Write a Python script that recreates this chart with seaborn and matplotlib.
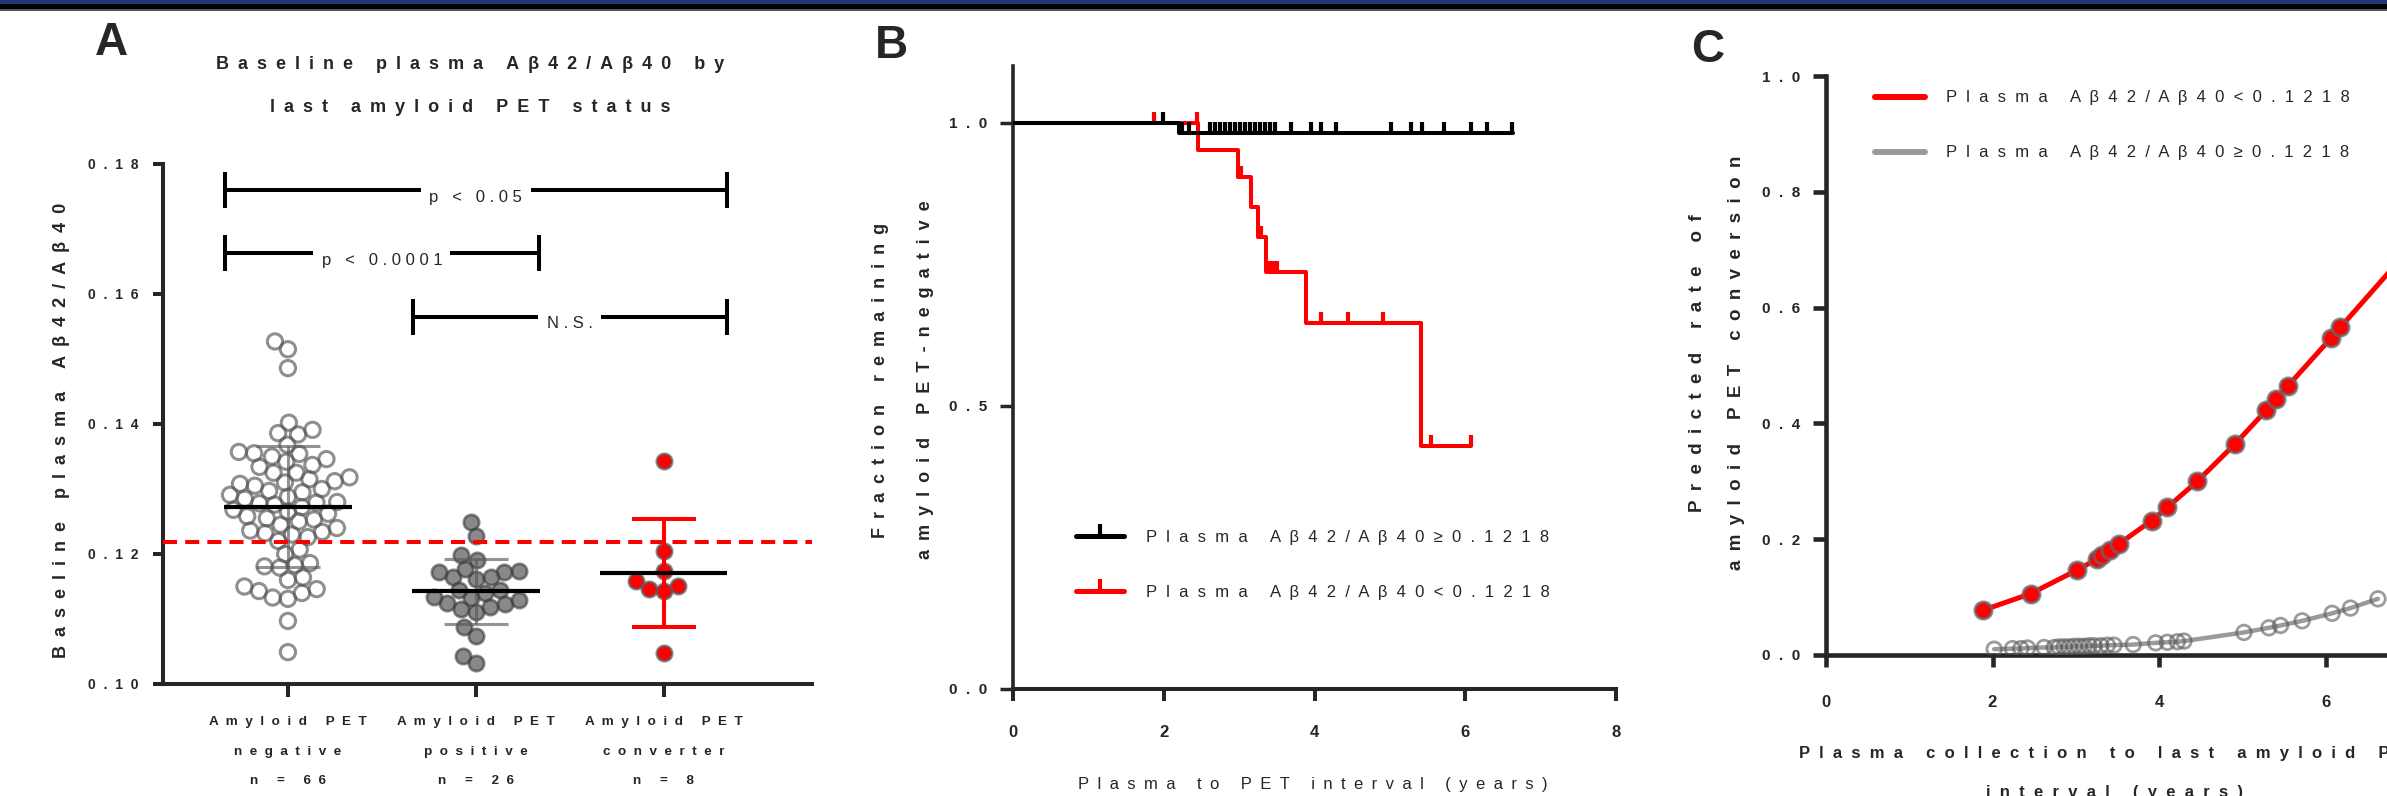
import numpy as np
import pandas as pd
import matplotlib.pyplot as plt
import seaborn as sns
from matplotlib.lines import Line2D
from matplotlib.patches import Rectangle

sns.set_style("ticks")
plt.rcParams['font.family'] = ['Liberation Sans', 'DejaVu Sans']

# ---- Panel A: baseline plasma ratio by last amyloid PET status
group_keys = ["negative", "positive", "converter"]
neg_ratio = [0.1527, 0.1515, 0.1486,
             0.1402, 0.1391, 0.1386, 0.1384, 0.1368, 0.1357, 0.1355, 0.1354, 0.1350,
             0.1346, 0.1342, 0.1337, 0.1334, 0.1325, 0.1325, 0.1318, 0.1315, 0.1312,
             0.1310, 0.1308, 0.1305,
             0.1300, 0.1297, 0.1295, 0.1291, 0.1288, 0.1285, 0.1280, 0.1279, 0.1278,
             0.1276, 0.1272, 0.1268, 0.1265, 0.1262, 0.1258, 0.1255, 0.1253, 0.1250,
             0.1245, 0.1240, 0.1236, 0.1234, 0.1232, 0.1230, 0.1226, 0.1220,
             0.1207, 0.1200, 0.1186, 0.1183, 0.1181, 0.1179, 0.1164, 0.1160, 0.1150,
             0.1146, 0.1143, 0.1140, 0.1133, 0.1131, 0.1097, 0.1049]
pos_ratio = [0.1249, 0.1228, 0.1191, 0.1198,
             0.1174, 0.1173, 0.1164, 0.1161, 0.1164, 0.1173, 0.1177,
             0.1144, 0.1145,
             0.1140, 0.1132, 0.1123, 0.1116, 0.1111, 0.1119, 0.1124, 0.1129, 0.1134,
             0.1087, 0.1074, 0.1043, 0.1032]
conv_ratio = [0.1343, 0.1205, 0.1174, 0.1158, 0.1151, 0.1146, 0.1143, 0.1047]
threshold = 0.1218
brackets = [(0, 2, 0.1760, "p < 0.05"), (0, 1, 0.1663, "p < 0.0001"), (1, 2, 0.1565, "N.S.")]

# ---- Panel B: Kaplan-Meier, remaining amyloid PET negative
km_black_t = [0.0, 2.20, 6.63]
km_black_s = [1.0, 0.982, 0.982]
km_black_cens = [1.99, 2.24, 2.34, 2.61, 2.68, 2.74, 2.81, 2.88, 2.94, 3.01, 3.08, 3.14,
                 3.21, 3.28, 3.34, 3.41, 3.48, 3.69, 3.95, 4.08, 4.28, 5.01, 5.28, 5.43,
                 5.72, 6.08, 6.29, 6.62]
km_red_t = [0.0, 2.45, 2.98, 3.16, 3.25, 3.35, 3.89, 5.41, 6.08]
km_red_s = [1.0, 0.953, 0.904, 0.852, 0.799, 0.737, 0.647, 0.430, 0.430]
km_red_cens = [1.87, 2.44, 3.02, 3.29, 3.40, 3.45, 3.50, 4.09, 4.45, 4.91, 5.54, 6.08]

# ---- Panel C: predicted rate of amyloid PET conversion
pred_red_t = [1.88, 2.46, 3.02, 3.26, 3.32, 3.41, 3.52, 3.91, 4.10, 4.46, 4.91, 5.29,
              5.41, 5.55, 6.07, 6.18, 7.00]
pred_red_p = [0.077, 0.106, 0.147, 0.166, 0.172, 0.181, 0.192, 0.232, 0.255, 0.300, 0.364,
              0.423, 0.443, 0.465, 0.548, 0.566, 0.700]
pred_gray_t = [2.02, 2.24, 2.34, 2.42, 2.62, 2.74, 2.80, 2.86, 2.92, 2.98, 3.04, 3.10,
               3.16, 3.22, 3.30, 3.38, 3.46, 3.69, 3.96, 4.10, 4.22, 4.30, 5.02, 5.32,
               5.46, 5.72, 6.08, 6.30, 6.63]
pred_gray_p = [0.010, 0.011, 0.011, 0.012, 0.013, 0.013, 0.014, 0.014, 0.014, 0.015, 0.015,
               0.015, 0.016, 0.016, 0.016, 0.017, 0.017, 0.018, 0.021, 0.022, 0.023, 0.024,
               0.039, 0.047, 0.051, 0.059, 0.072, 0.081, 0.097]

label_hi = "Plasma A\u03b242/A\u03b240\u22650.1218"
label_lo = "Plasma A\u03b242/A\u03b240<0.1218"

EN = "\u2002"   # en space, for the wide letter spacing of the original export


def sp(text, sep="  "):
    return sep.join(text)


W, H = 2387, 796
fig = plt.figure(figsize=(W / 100, H / 100), dpi=100)


def fx(x):
    return x / W


def fy(y):
    return 1 - y / H


# header band
fig.add_artist(Rectangle((0, fy(4.5)), 1, 4.5 / H, transform=fig.transFigure, fc="#1f3875", ec="none"))
fig.add_artist(Rectangle((0, fy(9.3)), 1, 4.8 / H, transform=fig.transFigure, fc="black", ec="none"))
fig.add_artist(Rectangle((0, fy(10.7)), 1, 1.4 / H, transform=fig.transFigure, fc="#555555", ec="none"))

axA = fig.add_axes([fx(163), fy(684), (812 - 163) / W, (684 - 164) / H])
axB = fig.add_axes([fx(1013), fy(689), (1616 - 1013) / W, 1.1 * 566 / H])
axC = fig.add_axes([fx(1826), fy(655), 666 / W, 579 / H])

# ---------------- A ----------------
df = pd.DataFrame({
    "group": ["negative"] * len(neg_ratio) + ["positive"] * len(pos_ratio) + ["converter"] * len(conv_ratio),
    "ratio": neg_ratio + pos_ratio + conv_ratio,
})
styles = {
    "negative": dict(fc="none", ec=(0.33, 0.33, 0.33, 0.65), lw=2.2),
    "positive": dict(fc=(0.38, 0.38, 0.38, 0.75), ec=(0.22, 0.22, 0.22, 0.6), lw=2.0),
    "converter": dict(fc="#ff0000", ec=(0.35, 0.35, 0.35, 0.7), lw=2.0),
}
swarms = []
for g in group_keys:
    n0 = len(axA.collections)
    sns.swarmplot(data=df[df.group == g], x="group", y="ratio", order=group_keys,
                  size=8.3, ax=axA, zorder=2)
    for pts in axA.collections[n0:]:
        pts.set_facecolor(styles[g]["fc"])
        pts.set_edgecolor(styles[g]["ec"])
        pts.set_linewidth(styles[g]["lw"])
        swarms.append(pts)

sd_colors = [(0.35, 0.35, 0.35, 0.65), (0.35, 0.35, 0.35, 0.65), "#ff0000"]
for i, vals in enumerate([neg_ratio, pos_ratio, conv_ratio]):
    m, s = np.mean(vals), np.std(vals, ddof=1)
    lw = 2.9 if i == 2 else 2.2
    axA.errorbar(i, m, yerr=s, color=sd_colors[i], capsize=23, capthick=lw, elinewidth=lw, zorder=3)
    axA.hlines(m, i - 0.34, i + 0.34, color="black", lw=3, zorder=4)

axA.axhline(threshold, color="#ff0000", lw=2.9, ls=(0, (3.5, 2)), zorder=5)

cap_h, ext = 0.0028, 0.335
for a, b, yb, lab in brackets:
    x0, x1 = a - ext, b + ext
    axA.plot([x0, x0, np.nan, x0, x1, np.nan, x1, x1],
             [yb - cap_h, yb + cap_h, np.nan, yb, yb, np.nan, yb - cap_h, yb + cap_h],
             color="black", lw=2.9, clip_on=False, solid_capstyle="butt")
    axA.text((x0 + x1) / 2, yb - 0.0011, sp(lab, " "), ha="center", va="center", fontsize=12,
             bbox=dict(fc="white", ec="none", pad=6), zorder=6)

axA.set_xlim(-0.665, 2.79)
axA.set_ylim(0.10, 0.18)
yt = [0.10, 0.12, 0.14, 0.16, 0.18]
axA.set_yticks(yt, [sp(f"{v:.2f}") for v in yt], fontsize=10, fontweight="bold")
cat_labels = [sp("Amyloid PET") + "\n" + sp(k) + "\n" + sp(f"n = {len(v)}")
              for k, v in zip(group_keys, [neg_ratio, pos_ratio, conv_ratio])]
axA.set_xticks(range(3), cat_labels, fontsize=9.7, fontweight="bold", linespacing=2.9)
axA.set_xlabel("")
axA.set_ylabel("")
axA.tick_params(axis="y", length=7.2, width=2.9, pad=10.8)
axA.tick_params(axis="x", length=9.4, width=2.9, pad=14)

# ---------------- B ----------------
sns.lineplot(x=km_red_t, y=km_red_s, drawstyle="steps-post", color="#ff0000", lw=2.9,
             estimator=None, sort=False, ax=axB, zorder=2)
sns.lineplot(x=km_black_t, y=km_black_s, drawstyle="steps-post", color="black", lw=2.9,
             estimator=None, sort=False, ax=axB, zorder=3)


def level_at(ts, ss, c):
    return ss[np.searchsorted(ts, c, side="right") - 1]


axB.plot(km_red_cens, [level_at(km_red_t, km_red_s, c) for c in km_red_cens], ls="none",
         marker=2, ms=8, mew=3, color="#ff0000", zorder=2)
axB.plot(km_black_cens, [level_at(km_black_t, km_black_s, c) for c in km_black_cens], ls="none",
         marker=2, ms=8, mew=3, color="black", zorder=3)

axB.set_xlim(0, 8)
axB.set_ylim(0, 1.1)
axB.set_yticks([0, 0.5, 1.0], [sp(f"{v:.1f}") for v in [0, 0.5, 1.0]], fontsize=11, fontweight="bold")
axB.set_xticks([0, 2, 4, 6, 8], ["0", "2", "4", "6", "8"], fontsize=12, fontweight="bold")
axB.set_xlabel("")
axB.set_ylabel("")
axB.tick_params(axis="y", length=9.4, width=2.5, pad=9.4)
axB.tick_params(axis="x", length=8.6, width=2.9, pad=17)
hB = [Line2D([0], [0], color="black", lw=3.6, marker=2, ms=9, mew=3, solid_capstyle="round"),
      Line2D([0], [0], color="#ff0000", lw=3.6, marker=2, ms=9, mew=3, solid_capstyle="round")]
axB.legend(hB, [sp(label_hi), sp(label_lo)], loc="upper left", bbox_to_anchor=(0.104, 0.255),
           frameon=False, fontsize=12, handlelength=2.9, handletextpad=1.3, labelspacing=2.4,
           borderpad=0, borderaxespad=0)

# ---------------- C ----------------
sns.lineplot(x=pred_gray_t, y=pred_gray_p, color="#9a9a9a", lw=3.2, estimator=None, sort=False,
             ax=axC, zorder=2)
n0 = len(axC.collections)
sns.scatterplot(x=pred_gray_t, y=pred_gray_p, s=110, ax=axC, zorder=3)
for pts in axC.collections[n0:]:
    pts.set_facecolor("none")
    pts.set_edgecolor((0.35, 0.35, 0.35, 0.6))
    pts.set_linewidth(2.0)
sns.lineplot(x=pred_red_t, y=pred_red_p, color="#ff0000", lw=3.6, estimator=None, sort=False,
             ax=axC, zorder=4)
n0 = len(axC.collections)
sns.scatterplot(x=pred_red_t, y=pred_red_p, s=150, ax=axC, zorder=5)
for pts in axC.collections[n0:]:
    pts.set_facecolor("#ff0000")
    pts.set_edgecolor((0.4, 0.4, 0.4, 0.75))
    pts.set_linewidth(2.2)

axC.set_xlim(0, 8)
axC.set_ylim(0, 1.0)
ytc = [0, 0.2, 0.4, 0.6, 0.8, 1.0]
axC.set_yticks(ytc, [sp(f"{v:.1f}") for v in ytc], fontsize=11, fontweight="bold")
axC.set_xticks([0, 2, 4, 6, 8], ["0", "2", "4", "6", "8"], fontsize=12, fontweight="bold")
axC.set_xlabel("")
axC.set_ylabel("")
axC.tick_params(axis="y", length=9.4, width=3.3, pad=9.4)
axC.tick_params(axis="x", length=8.6, width=3.3, pad=20)
hC = [Line2D([0], [0], color="#ff0000", lw=4.3, solid_capstyle="round"),
      Line2D([0], [0], color="#9a9a9a", lw=4.3, solid_capstyle="round")]
axC.legend(hC, [sp(label_lo), sp(label_hi)], loc="upper left", bbox_to_anchor=(0.0736, 0.975),
           frameon=False, fontsize=12, handlelength=3.0, handletextpad=1.26, labelspacing=2.4,
           borderpad=0, borderaxespad=0)

for ax, lw in [(axA, 2.9), (axB, 2.6), (axC, 3.3)]:
    sns.despine(ax=ax)
    for side in ["left", "bottom"]:
        ax.spines[side].set_linewidth(lw)
axB.spines["bottom"].set_linewidth(2.9)

# ---------------- text ----------------
for letter, (x, y) in zip("ABC", [(111, 43), (891, 46), (1708, 50)]):
    fig.text(fx(x), fy(y), letter, fontsize=33, fontweight="bold", ha="center", va="center")

fig.text(fx(470), fy(86), sp("Baseline plasma A\u03b242/A\u03b240 by", EN) + "\n" + sp("last amyloid PET status", EN),
         fontsize=13, fontweight="bold", ha="center", va="center", linespacing=3.0)
fig.text(fx(62), fy(430), sp("Baseline plasma A\u03b242/A\u03b240", EN), fontsize=13, fontweight="bold",
         rotation=90, ha="center", va="center")
fig.text(fx(903), fy(380), sp("Fraction remaining", EN) + "\n" + sp("amyloid PET-negative", EN),
         fontsize=13, fontweight="bold", rotation=90, ha="center", va="center", linespacing=3.1)
fig.text(fx(1313), fy(784), sp("Plasma to PET interval (years)", EN), fontsize=12,
         ha="center", va="center")
fig.text(fx(1717), fy(363), sp("Predicted rate of", EN) + "\n" + sp("amyloid PET conversion", EN),
         fontsize=13.5, fontweight="bold", rotation=90, ha="center", va="center", linespacing=2.75)
fig.text(fx(2114), fy(773), sp("Plasma collection to last amyloid PET") + "\n" + sp("interval (years)"),
         fontsize=12, fontweight="bold", ha="center", va="center", linespacing=3.05)

# lay the swarms out once with the small marker, then freeze them and draw bigger,
# overlapping circles as in the original
fig.canvas.draw()
for pts in swarms:
    if "draw" in pts.__dict__:
        del pts.draw
    pts.set_sizes([11.0 ** 2])

fig.savefig("out.png", dpi=100)
